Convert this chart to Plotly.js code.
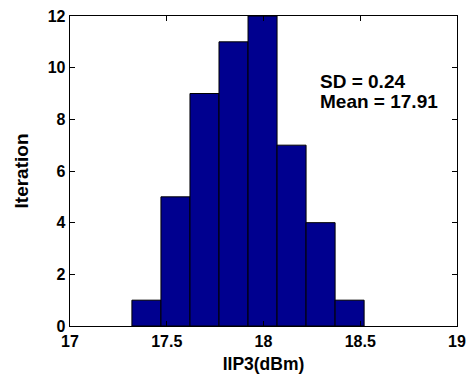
<!DOCTYPE html>
<html>
<head>
<meta charset="utf-8">
<script src="https://cdn.plot.ly/plotly-3.0.1.min.js"></script>
<style>html,body{margin:0;padding:0;background:#fff;}#chart{width:469px;height:378px;}</style>
</head>
<body>
<div id="chart"></div>
<script>
// Histogram bin centres (dBm) and counts
const binCenters = [17.395, 17.545, 17.695, 17.845, 17.995, 18.145, 18.295, 18.445];
const counts = [1, 5, 9, 11, 12, 7, 4, 1];
const binWidth = 0.15;
const xTicks = [17, 17.5, 18, 18.5, 19];
const xTickLabels = ['17', '17.5', '18', '18.5', '19'];
const yTicks = [0, 2, 4, 6, 8, 10, 12];
const yTickLabels = ['0', '2', '4', '6', '8', '10', '12'];
const statsText = ['SD = 0.24', 'Mean = 17.91'];

const font = '"Liberation Sans", Arial, sans-serif';

const trace = {
  type: 'bar',
  x: binCenters,
  y: counts,
  width: binCenters.map(() => binWidth),
  marker: {color: '#00008F', line: {color: '#000000', width: 1}},
  hoverinfo: 'none'
};

const axisCommon = {
  showline: true, linecolor: '#000', linewidth: 1.3,
  mirror: 'ticks', ticks: 'inside', ticklen: 5, tickwidth: 1, tickcolor: '#000',
  showgrid: false, zeroline: false,
  tickfont: {family: font, size: 16, color: '#000', weight: 700}
};

const layout = {
  width: 469, height: 378,
  margin: {l: 70, r: 12, t: 16, b: 52},
  paper_bgcolor: '#fff', plot_bgcolor: '#fff',
  showlegend: false,
  bargap: 0,
  xaxis: Object.assign({}, axisCommon, {
    range: [17, 19], tickvals: xTicks, ticktext: xTickLabels,
    title: {text: 'IIP3(dBm)', font: {family: font, size: 17.5, color: '#000', weight: 700}, standoff: 9}
  }),
  yaxis: Object.assign({}, axisCommon, {
    range: [0, 12], tickvals: yTicks, ticktext: yTickLabels,
    title: {text: 'Iteration', font: {family: font, size: 19, color: '#000', weight: 700}, standoff: 14}
  }),
  annotations: [
    {xref: 'x', yref: 'y', x: 18.28, y: 9.45, xanchor: 'left', yanchor: 'middle', showarrow: false,
     text: statsText[0], font: {family: font, size: 19, color: '#000', weight: 700}},
    {xref: 'x', yref: 'y', x: 18.28, y: 8.68, xanchor: 'left', yanchor: 'middle', showarrow: false,
     text: statsText[1], font: {family: font, size: 19, color: '#000', weight: 700}}
  ]
};

Plotly.newPlot('chart', [trace], layout, {staticPlot: true, displayModeBar: false});
</script>
</body>
</html>
